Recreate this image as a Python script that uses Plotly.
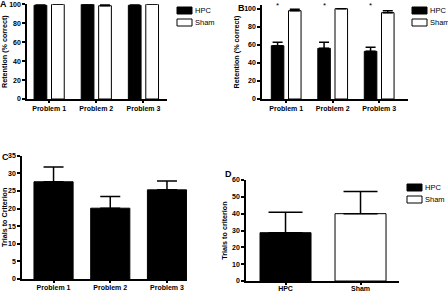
import plotly.graph_objects as go

W, H = 448, 291

problems = ["Problem 1", "Problem 2", "Problem 3"]

# Panel A: retention (% correct)
a_hpc = [99.0, 100.0, 99.0]
a_hpc_err = [1.0, 0.0, 1.0]
a_sham = [100.0, 98.5, 100.0]
a_sham_err = [0.0, 1.0, 0.0]

# Panel B: retention (% correct)
b_hpc = [59.0, 56.1, 52.8]
b_hpc_err = [3.8, 6.7, 4.4]
b_sham = [97.8, 100.0, 95.6]
b_sham_err = [1.5, 0.0, 2.2]
b_sig = ["*", "*", "*"]

# Panel C: trials to criterion
c_vals = [27.6, 20.1, 25.3]
c_err = [4.2, 3.3, 2.5]

# Panel D: trials to criterion
groups = ["HPC", "Sham"]
d_vals = [28.7, 40.0]
d_err = [12.1, 13.1]

legend_labels = ["HPC", "Sham"]
legend_colors = ["black", "white"]

FONT = "Liberation Sans, Arial, sans-serif"


def px(x0, x1):
    return [x0 / W, x1 / W]


def py(top, bottom):
    return [1 - bottom / H, 1 - top / H]


def err(arr, w):
    return dict(type="data", array=arr, arrayminus=[0] * len(arr), symmetric=False,
                color="black", thickness=1.5, width=w)


fig = go.Figure()

# ---- Panel A
fig.add_trace(go.Bar(x=problems, y=a_hpc, name="HPC", xaxis="x", yaxis="y",
                     marker=dict(color="black", line=dict(color="black", width=1)),
                     offset=-0.32, width=0.27, error_y=err(a_hpc_err, 5)))
fig.add_trace(go.Bar(x=problems, y=a_sham, name="Sham", xaxis="x", yaxis="y",
                     marker=dict(color="white", line=dict(color="black", width=1)),
                     offset=0.05, width=0.27, error_y=err(a_sham_err, 5)))

# ---- Panel B
fig.add_trace(go.Bar(x=problems, y=b_hpc, name="HPC", xaxis="x2", yaxis="y2",
                     marker=dict(color="black", line=dict(color="black", width=1)),
                     offset=-0.32, width=0.27, error_y=err(b_hpc_err, 5)))
fig.add_trace(go.Bar(x=problems, y=b_sham, name="Sham", xaxis="x2", yaxis="y2",
                     marker=dict(color="white", line=dict(color="black", width=1)),
                     offset=0.05, width=0.27, error_y=err(b_sham_err, 5)))

# ---- Panel C
fig.add_trace(go.Bar(x=problems, y=c_vals, name="Trials", xaxis="x3", yaxis="y3",
                     marker=dict(color="black", line=dict(color="black", width=1)),
                     offset=-0.345, width=0.69, error_y=err(c_err, 10)))

# ---- Panel D
fig.add_trace(go.Bar(x=[groups[0]], y=[d_vals[0]], name="HPC", xaxis="x4", yaxis="y4",
                     marker=dict(color="black", line=dict(color="black", width=1)),
                     offset=-0.34, width=0.68, error_y=err([d_err[0]], 17)))
fig.add_trace(go.Bar(x=[groups[1]], y=[d_vals[1]], name="Sham", xaxis="x4", yaxis="y4",
                     marker=dict(color="white", line=dict(color="black", width=1)),
                     offset=-0.34, width=0.68, error_y=err([d_err[1]], 17)))

tickfont = dict(family=FONT, size=7, color="black", weight="bold")
titlefont = dict(family=FONT, size=7.2, color="black", weight="bold")


def xax(domain, rng, anchor, standoff=0):
    return dict(domain=domain, range=rng, anchor=anchor, type="category",
                showline=True, linecolor="black", linewidth=1.5,
                ticks="outside", ticklen=2, tickwidth=1.5, tickcolor="black",
                showgrid=False, zeroline=False, tickfont=tickfont, automargin=False,
                ticklabelstandoff=standoff)


def yax(domain, rng, dtick, anchor, title, standoff):
    return dict(domain=domain, range=rng, anchor=anchor, dtick=dtick, tick0=0,
                showline=True, linecolor="black", linewidth=1.5,
                ticks="outside", ticklen=3, tickwidth=1.5, tickcolor="black",
                showgrid=False, zeroline=False, tickfont=tickfont, automargin=False,
                title=dict(text=title, font=titlefont, standoff=standoff))


fig.update_layout(
    width=W, height=H,
    template="none",
    margin=dict(l=0, r=0, t=0, b=0),
    paper_bgcolor="white", plot_bgcolor="white",
    showlegend=False,
    barmode="overlay",
    xaxis=xax(px(27, 167), [-0.47, 2.5], "y"),
    yaxis=yax(py(4.3, 99), [0, 100], 20, "x", "Retention (% correct)", 4),
    xaxis2=xax(px(262, 408), [-0.52, 2.62], "y2"),
    yaxis2=yax(py(5.1, 99), [0, 104], 20, "x2", "Retention (% correct)", 4),
    xaxis3=xax(px(22, 187), [-0.556, 2.353], "y3", -1),
    yaxis3=yax(py(155.7, 279), [0, 35], 5, "x3", "Trials to Criterion", 4),
    xaxis4=xax(px(246, 399), [-0.527, 1.513], "y4", -2),
    yaxis4=yax(py(180, 281), [0, 60], 10, "x4", "Trials to criterion", 4),
)

# significance asterisks above HPC bars in panel B
for i, s in enumerate(b_sig):
    fig.add_annotation(x=i - 0.185, y=104, xref="x2", yref="y2", text=s, showarrow=False,
                       font=dict(family=FONT, size=8, color="black"), yanchor="middle")

# legends (swatch + label) for panels A, B, D
legend_spots = [(177, 7), (412, 7), (407, 184)]
for lx, ly in legend_spots:
    for k, (lab, col) in enumerate(zip(legend_labels, legend_colors)):
        top = ly + k * 12
        fig.add_shape(type="rect", xref="paper", yref="paper",
                      x0=lx / W, x1=(lx + 15) / W, y0=1 - (top + 7) / H, y1=1 - top / H,
                      fillcolor=col, line=dict(color="black", width=1))
        fig.add_annotation(x=(lx + 16) / W, y=1 - (top + 3.5) / H, xref="paper", yref="paper",
                           text=lab, showarrow=False, xanchor="left", yanchor="middle",
                           font=dict(family=FONT, size=7.5, color="black"))

# panel letters
letters = [("A", 3, 4), ("B", 241, 8), ("C", 5, 157), ("D", 228, 174)]
for t, lx, ly in letters:
    fig.add_annotation(x=lx / W, y=1 - ly / H, xref="paper", yref="paper", text=t,
                       showarrow=False, xanchor="center", yanchor="middle",
                       font=dict(family=FONT, size=9, color="black", weight="bold"))

fig.write_html("out.html", config={"displayModeBar": False},
               post_script="document.body.style.margin='0';document.body.style.overflow='hidden';")
